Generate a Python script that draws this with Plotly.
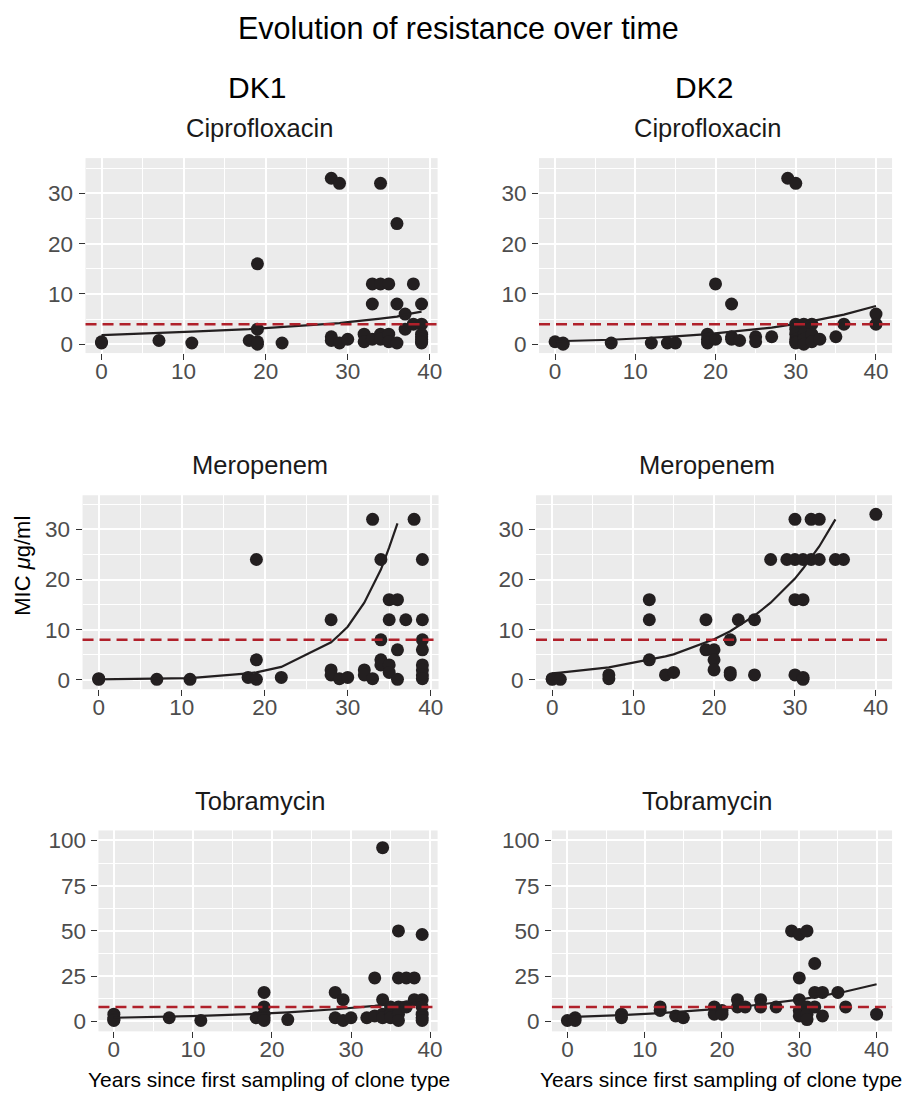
import plotly.graph_objects as go

W, H = 906, 1097

# ---------------- data ----------------
groups = ["DK1", "DK2"]
drugs = ["Ciprofloxacin", "Meropenem", "Tobramycin"]
breakpoints = {"Ciprofloxacin": 4, "Meropenem": 8, "Tobramycin": 8}

dk1_cipro_x = [0, 0, 7, 11, 18, 19, 19, 19, 19, 22, 28, 28, 28, 29, 29, 30, 32, 32, 33, 33, 33,
               34, 34, 34, 34, 35, 35, 35, 36, 36, 36, 37, 37, 38, 38, 39, 39, 39, 39, 39, 39, 39]
dk1_cipro_y = [0.25, 0.5, 0.75, 0.25, 0.75, 16, 3, 0.5, 0, 0.25, 33, 1.5, 0.75, 32, 0.25, 1, 2, 0.5, 12, 8, 1,
               32, 12, 2, 1, 12, 2, 0.5, 24, 8, 0.25, 6, 3, 12, 4, 8, 4, 2, 1.5, 1, 0.5, 0.25]
dk1_cipro_fit_x = [0, 7, 11, 18, 19, 22, 28, 29, 30, 32, 33, 34, 35, 36, 37, 38, 39]
dk1_cipro_fit_y = [1.8, 2.2, 2.5, 3.0, 3.1, 3.4, 4.1, 4.2, 4.4, 4.7, 4.9, 5.1, 5.3, 5.5, 5.9, 6.2, 6.5]

dk2_cipro_x = [0, 1, 1, 7, 12, 14, 15, 19, 19, 19, 20, 20, 22, 22, 22, 23, 25, 25, 27, 29, 30, 30, 30, 30,
               30, 30, 30, 31, 31, 31, 31, 32, 32, 32, 33, 35, 36, 40, 40]
dk2_cipro_y = [0.5, 0.25, 0, 0.25, 0.25, 0.25, 0.25, 2, 1, 0.25, 12, 1, 8, 1.5, 1, 0.75, 1.5, 0.5, 1.5, 33, 32, 4, 3, 2,
               1, 0.5, 0.25, 4, 2, 1, 0, 4, 2, 0.5, 1, 1.5, 4, 6, 4]
dk2_cipro_fit_x = [0, 1, 7, 12, 14, 15, 19, 20, 22, 23, 25, 27, 29, 30, 31, 32, 33, 35, 36, 40]
dk2_cipro_fit_y = [0.6, 0.65, 0.9, 1.3, 1.45, 1.55, 2.0, 2.15, 2.45, 2.6, 2.95, 3.3, 3.8, 4.0, 4.3, 4.6, 4.9, 5.6, 5.9, 7.6]

dk1_mero_x = [0, 0, 7, 11, 18, 19, 19, 19, 22, 28, 28, 28, 29, 30, 32, 32, 33, 33, 34, 34, 34, 34, 35, 35, 35, 35,
              36, 36, 36, 37, 38, 39, 39, 39, 39, 39, 39, 39, 39]
dk1_mero_y = [0.12, 0.25, 0.12, 0.12, 0.5, 24, 4, 0.12, 0.5, 12, 2, 1, 0.25, 0.5, 2, 1, 32, 0.25, 24, 8, 4, 3, 16, 12, 3, 1.5,
              16, 6, 0.12, 12, 32, 24, 12, 8, 6, 3, 2, 1, 0.25]
dk1_mero_fit_x = [0, 7, 11, 18, 19, 22, 28, 29, 30, 32, 33, 34, 35, 36]
dk1_mero_fit_y = [0.1, 0.2, 0.35, 1.3, 1.5, 2.6, 7.5, 9.0, 10.6, 15.4, 18.7, 22.0, 26.4, 31.2]

dk2_mero_x = [0, 0, 1, 7, 7, 12, 12, 12, 14, 15, 19, 19, 20, 20, 20, 22, 22, 22, 23, 25, 25, 27, 29, 30, 30, 30, 30,
              31, 31, 31, 31, 32, 32, 33, 33, 35, 36, 40]
dk2_mero_y = [0.12, 0.25, 0.12, 1, 0.25, 16, 12, 4, 1, 1.5, 12, 6, 6, 4, 2, 8, 1.5, 1, 12, 12, 1, 24, 24, 32, 24, 16, 1,
              24, 16, 0.5, 0.12, 32, 24, 32, 24, 24, 24, 33]
dk2_mero_fit_x = [0, 1, 7, 12, 14, 15, 19, 20, 22, 23, 25, 27, 29, 30, 31, 32, 33, 35]
dk2_mero_fit_y = [1.3, 1.45, 2.5, 4.0, 4.7, 5.1, 7.4, 8.1, 9.7, 10.7, 12.8, 15.4, 18.5, 20.2, 22.2, 24.3, 26.6, 32.0]

dk1_tobra_x = [0, 0, 0, 0, 7, 11, 18, 19, 19, 19, 19, 19, 22, 28, 28, 29, 29, 30, 32, 33, 33, 34, 34, 34, 34, 35, 35, 35,
               36, 36, 36, 36, 36, 37, 37, 38, 38, 39, 39, 39, 39, 39, 39]
dk1_tobra_y = [4, 2, 1, 0.5, 2, 0.5, 2, 16, 8, 4, 2, 0.5, 1, 16, 2, 12, 0.5, 2, 2, 24, 3, 96, 12, 4, 2, 8, 4, 2,
               50, 24, 8, 4, 0.5, 24, 8, 24, 12, 48, 12, 8, 4, 2, 0.5]
dk1_tobra_fit_x = [0, 7, 11, 18, 19, 22, 28, 29, 30, 32, 33, 34, 35, 36, 37, 38, 39]
dk1_tobra_fit_y = [2.0, 2.6, 3.0, 4.2, 4.4, 5.0, 6.7, 7.0, 7.4, 8.2, 8.6, 9.1, 9.6, 10.2, 10.8, 11.4, 12.0]

dk2_tobra_x = [0, 1, 1, 7, 7, 12, 12, 14, 15, 19, 19, 20, 20, 22, 22, 23, 25, 25, 27, 29, 30, 30, 30, 30, 30,
               31, 31, 31, 31, 32, 32, 32, 33, 33, 35, 36, 40]
dk2_tobra_y = [0.5, 2, 0.5, 4, 2, 8, 6, 3, 2, 8, 4, 6, 4, 12, 8, 8, 12, 8, 8, 50, 48, 24, 12, 6, 3,
               50, 8, 4, 1, 32, 16, 8, 16, 3, 16, 8, 4]
dk2_tobra_fit_x = [0, 1, 7, 12, 14, 15, 19, 20, 22, 23, 25, 27, 29, 30, 31, 32, 33, 35, 36, 40]
dk2_tobra_fit_y = [2.4, 2.5, 3.5, 4.6, 5.1, 5.4, 6.6, 7.0, 7.8, 8.3, 9.2, 10.3, 11.4, 12.0, 12.7, 13.4, 14.1, 15.6, 16.5, 20.5]

x_ticks = [0, 10, 20, 30, 40]
x_minor = [5, 15, 25, 35]
y_ticks_small = [0, 10, 20, 30]
y_minor_small = [5, 15, 25, 35]
y_ticks_tobra = [0, 25, 50, 75, 100]
y_minor_tobra = [12.5, 37.5, 62.5, 87.5]

# ---------------- layout of panels (pixel boxes: left, right, top, bottom) ----------------
panels = [
    dict(drug="Ciprofloxacin", grp="DK1", px=dk1_cipro_x, py=dk1_cipro_y, fx=dk1_cipro_fit_x, fy=dk1_cipro_fit_y,
         box=(86, 440, 157, 353), xr=[-1.95, 40.95], yr=[-1.75, 37.0], yt=y_ticks_small, ym=y_minor_small),
    dict(drug="Ciprofloxacin", grp="DK2", px=dk2_cipro_x, py=dk2_cipro_y, fx=dk2_cipro_fit_x, fy=dk2_cipro_fit_y,
         box=(542, 897, 157, 353), xr=[-2.0, 42.0], yr=[-1.75, 37.0], yt=y_ticks_small, ym=y_minor_small),
    dict(drug="Meropenem", grp="DK1", px=dk1_mero_x, py=dk1_mero_y, fx=dk1_mero_fit_x, fy=dk1_mero_fit_y,
         box=(83, 441, 496, 691), xr=[-1.95, 40.95], yr=[-1.85, 36.8], yt=y_ticks_small, ym=y_minor_small),
    dict(drug="Meropenem", grp="DK2", px=dk2_mero_x, py=dk2_mero_y, fx=dk2_mero_fit_x, fy=dk2_mero_fit_y,
         box=(539, 897, 496, 691), xr=[-2.0, 42.0], yr=[-1.85, 36.8], yt=y_ticks_small, ym=y_minor_small),
    dict(drug="Tobramycin", grp="DK1", px=dk1_tobra_x, py=dk1_tobra_y, fx=dk1_tobra_fit_x, fy=dk1_tobra_fit_y,
         box=(99, 440, 833, 1035), xr=[-1.95, 40.95], yr=[-5.5, 105.5], yt=y_ticks_tobra, ym=y_minor_tobra),
    dict(drug="Tobramycin", grp="DK2", px=dk2_tobra_x, py=dk2_tobra_y, fx=dk2_tobra_fit_x, fy=dk2_tobra_fit_y,
         box=(555, 897, 833, 1035), xr=[-2.0, 42.0], yr=[-5.5, 105.5], yt=y_ticks_tobra, ym=y_minor_tobra),
]

FONT = "Liberation Sans, Arial, Helvetica, sans-serif"
INK = "#231F20"
RED = "#B0202A"
TICKFONT = dict(family=FONT, size=22.5, color="#4D4D4D")

fig = go.Figure()
layout = dict(
    width=W, height=H, margin=dict(l=0, r=0, t=0, b=0),
    paper_bgcolor="white", plot_bgcolor="#EBEBEB", showlegend=False,
    font=dict(family=FONT, color="#1A1A1A"),
)
shapes = []
annotations = []

for i, p in enumerate(panels, start=1):
    xa = "x" if i == 1 else f"x{i}"
    ya = "y" if i == 1 else f"y{i}"
    l, r, t, b = p["box"]
    common = dict(
        ticks="outside", ticklen=6, tickwidth=1.1, tickcolor="#333333",
        tickfont=TICKFONT, showgrid=True, gridcolor="white", gridwidth=1.6,
        zeroline=False, showline=False, fixedrange=True,
    )
    layout["xaxis" if i == 1 else f"xaxis{i}"] = dict(
        domain=[l / W, r / W], anchor=ya, range=p["xr"], tickvals=x_ticks, ticklabelstandoff=-8,
        minor=dict(tickvals=x_minor, showgrid=True, gridcolor="white", gridwidth=0.8, ticks=""),
        **common)
    layout["yaxis" if i == 1 else f"yaxis{i}"] = dict(
        domain=[1 - b / H, 1 - t / H], anchor=xa, range=p["yr"], tickvals=p["yt"], ticklabelstandoff=1,
        minor=dict(tickvals=p["ym"], showgrid=True, gridcolor="white", gridwidth=0.8, ticks=""),
        **common)

    fig.add_trace(go.Scatter(x=p["px"], y=p["py"], mode="markers", xaxis=xa, yaxis=ya,
                             marker=dict(color=INK, size=13, line=dict(width=0))))
    fig.add_trace(go.Scatter(x=p["fx"], y=p["fy"], mode="lines", xaxis=xa, yaxis=ya,
                             line=dict(color=INK, width=2.2)))
    thr = breakpoints[p["drug"]]
    shapes.append(dict(type="line", xref=f"{xa} domain", yref=ya, x0=0, x1=1, y0=thr, y1=thr,
                       line=dict(color=RED, width=2.5, dash="11px,6px"), layer="above"))

# subplot titles
sub_x = {"DK1": 261, "DK2": 711}
sub_y = {"Ciprofloxacin": 127, "Meropenem": 466, "Tobramycin": 803}
for p in panels:
    annotations.append(dict(text=p["drug"], x=sub_x[p["grp"]] / W, y=1 - sub_y[p["drug"]] / H,
                            xref="paper", yref="paper", showarrow=False, xanchor="center", yanchor="middle",
                            font=dict(family=FONT, size=25.5, color="#1A1A1A")))

# group headers
grp_x = {"DK1": 258.5, "DK2": 708}
for g in groups:
    annotations.append(dict(text=g, x=grp_x[g] / W, y=1 - 86 / H, xref="paper", yref="paper",
                            showarrow=False, xanchor="center", yanchor="middle",
                            font=dict(family=FONT, size=30, color="#000000")))

# main title
annotations.append(dict(text="Evolution of resistance over time", x=461.5 / W, y=1 - 26 / H,
                        xref="paper", yref="paper", showarrow=False, xanchor="center", yanchor="middle",
                        font=dict(family=FONT, size=30.5, color="#000000")))

# axis titles
for cx in (270, 725):
    annotations.append(dict(text="Years since first sampling of clone type", x=cx / W, y=1 - 1083 / H,
                            xref="paper", yref="paper", showarrow=False, xanchor="center", yanchor="middle",
                            font=dict(family=FONT, size=21, color="#000000")))
annotations.append(dict(text="MIC <i>μ</i>g/ml", x=23 / W, y=1 - 567 / H, xref="paper", yref="paper",
                        showarrow=False, textangle=-90, xanchor="center", yanchor="middle",
                        font=dict(family=FONT, size=22, color="#000000")))

layout["shapes"] = shapes
layout["annotations"] = annotations
fig.update_layout(**layout)
fig.write_html("out.html", config={"displayModeBar": False},
               post_script="document.body.style.margin='0';document.body.style.overflow='hidden';")
